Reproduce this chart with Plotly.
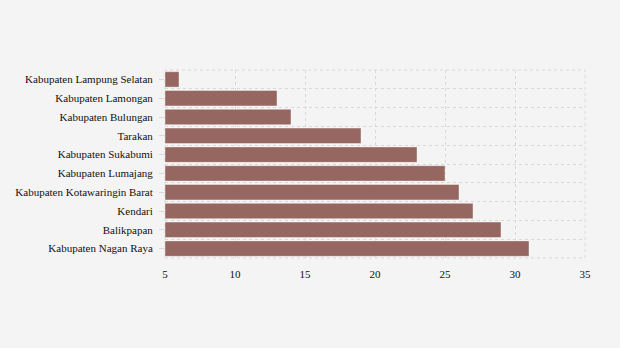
import plotly.graph_objects as go

categories = [
    "Kabupaten Lampung Selatan",
    "Kabupaten Lamongan",
    "Kabupaten Bulungan",
    "Tarakan",
    "Kabupaten Sukabumi",
    "Kabupaten Lumajang",
    "Kabupaten Kotawaringin Barat",
    "Kendari",
    "Balikpapan",
    "Kabupaten Nagan Raya",
]
values = [6, 13, 14, 19, 23, 25, 26, 27, 29, 31]
x_ticks = [5, 10, 15, 20, 25, 30, 35]
x_min = 5

positions = list(range(len(categories)))
boundaries = [p - 0.5 for p in positions] + [positions[-1] + 0.5]

GRID = "#d9d9d9"
DASH = "3px,3px"

fig = go.Figure(
    go.Bar(
        x=[v - x_min for v in values],
        base=x_min,
        y=positions,
        orientation="h",
        marker=dict(color="#966660", line=dict(color="rgba(255,255,255,0.4)", width=1)),
        width=0.82,
    )
)

fig.update_layout(
    width=620,
    height=348,
    margin=dict(l=165, r=35, t=70, b=90),
    paper_bgcolor="#f4f4f4",
    plot_bgcolor="#f4f4f4",
    font=dict(family="Liberation Serif, Times New Roman, serif", size=11, color="#111"),
    showlegend=False,
    shapes=[
        dict(
            type="rect", xref="paper", yref="paper", x0=0, x1=1, y0=0, y1=1,
            line=dict(color=GRID, width=1, dash=DASH), layer="below",
        )
    ],
)
fig.update_xaxes(
    range=[5, 35],
    tickvals=x_ticks,
    showgrid=True,
    gridcolor=GRID,
    griddash=DASH,
    gridwidth=1,
    zeroline=False,
    showline=False,
    ticks="",
    ticklabelstandoff=8,
)
fig.update_yaxes(
    range=[len(categories) - 0.5, -0.5],
    tickvals=positions,
    ticktext=categories,
    showgrid=False,
    zeroline=False,
    showline=False,
    ticks="outside",
    ticklen=5,
    tickcolor=GRID,
    ticklabelstandoff=4,
    minor=dict(
        tickvals=boundaries,
        showgrid=True,
        gridcolor=GRID,
        griddash=DASH,
        gridwidth=1,
        ticks="",
    ),
)
fig.write_html("out.html")
